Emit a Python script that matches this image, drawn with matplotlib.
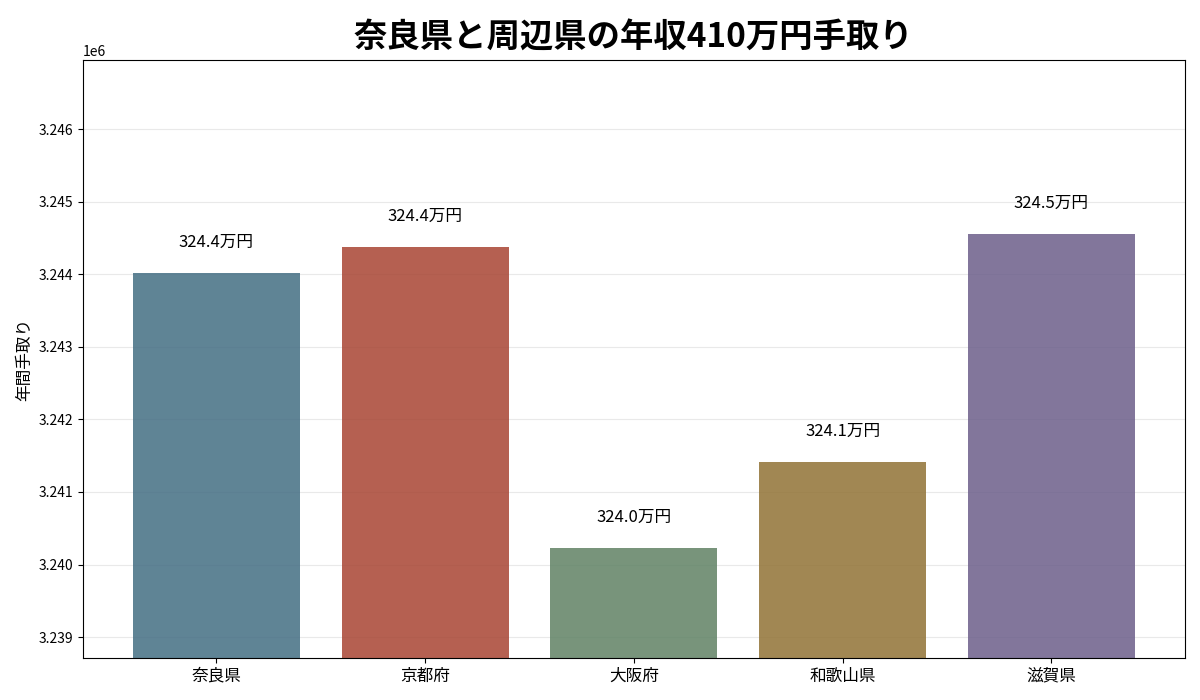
import matplotlib
matplotlib.use("Agg")
import matplotlib.pyplot as plt

plt.rcParams['font.family'] = ['Noto Sans CJK JP', 'DejaVu Sans']

prefectures = ['奈良県', '京都府', '大阪府', '和歌山県', '滋賀県']
takehome = [3244016, 3244374, 3240226, 3241411, 3244553]
colors = ['#436e83', '#a84433', '#608264', '#917235', '#6c5e8a']
title = '奈良県と周辺県の年収410万円手取り'
ylabel = '年間手取り'

fig = plt.figure(figsize=(12, 7), dpi=100)
ax = fig.add_axes([0.069, 0.06, 0.9185, 0.854])

x = range(len(prefectures))
bars = ax.bar(x, takehome, width=0.8, color=colors, alpha=0.85, zorder=2)
ax.set_xticks(list(x))
ax.set_xticklabels(prefectures, fontsize=12)
ax.tick_params(axis='y', labelsize=10)

lo, hi = min(takehome), max(takehome)
rng = hi - lo
ax.set_ylim(lo - rng * 0.35, hi + rng * 0.554)

ax.grid(axis='y', color='#e9e9e9', linewidth=0.8, zorder=0)
ax.set_axisbelow(True)

for xi, v in zip(x, takehome):
    ax.annotate(f'{v/10000:.1f}万円', xy=(xi, v), xytext=(0, 16),
                textcoords='offset points', ha='center', va='bottom', fontsize=12)

ax.set_ylabel(ylabel, fontsize=12)
ax.set_title(title, fontsize=24, fontweight='bold', pad=10)

fig.savefig('out.png', dpi=100)
